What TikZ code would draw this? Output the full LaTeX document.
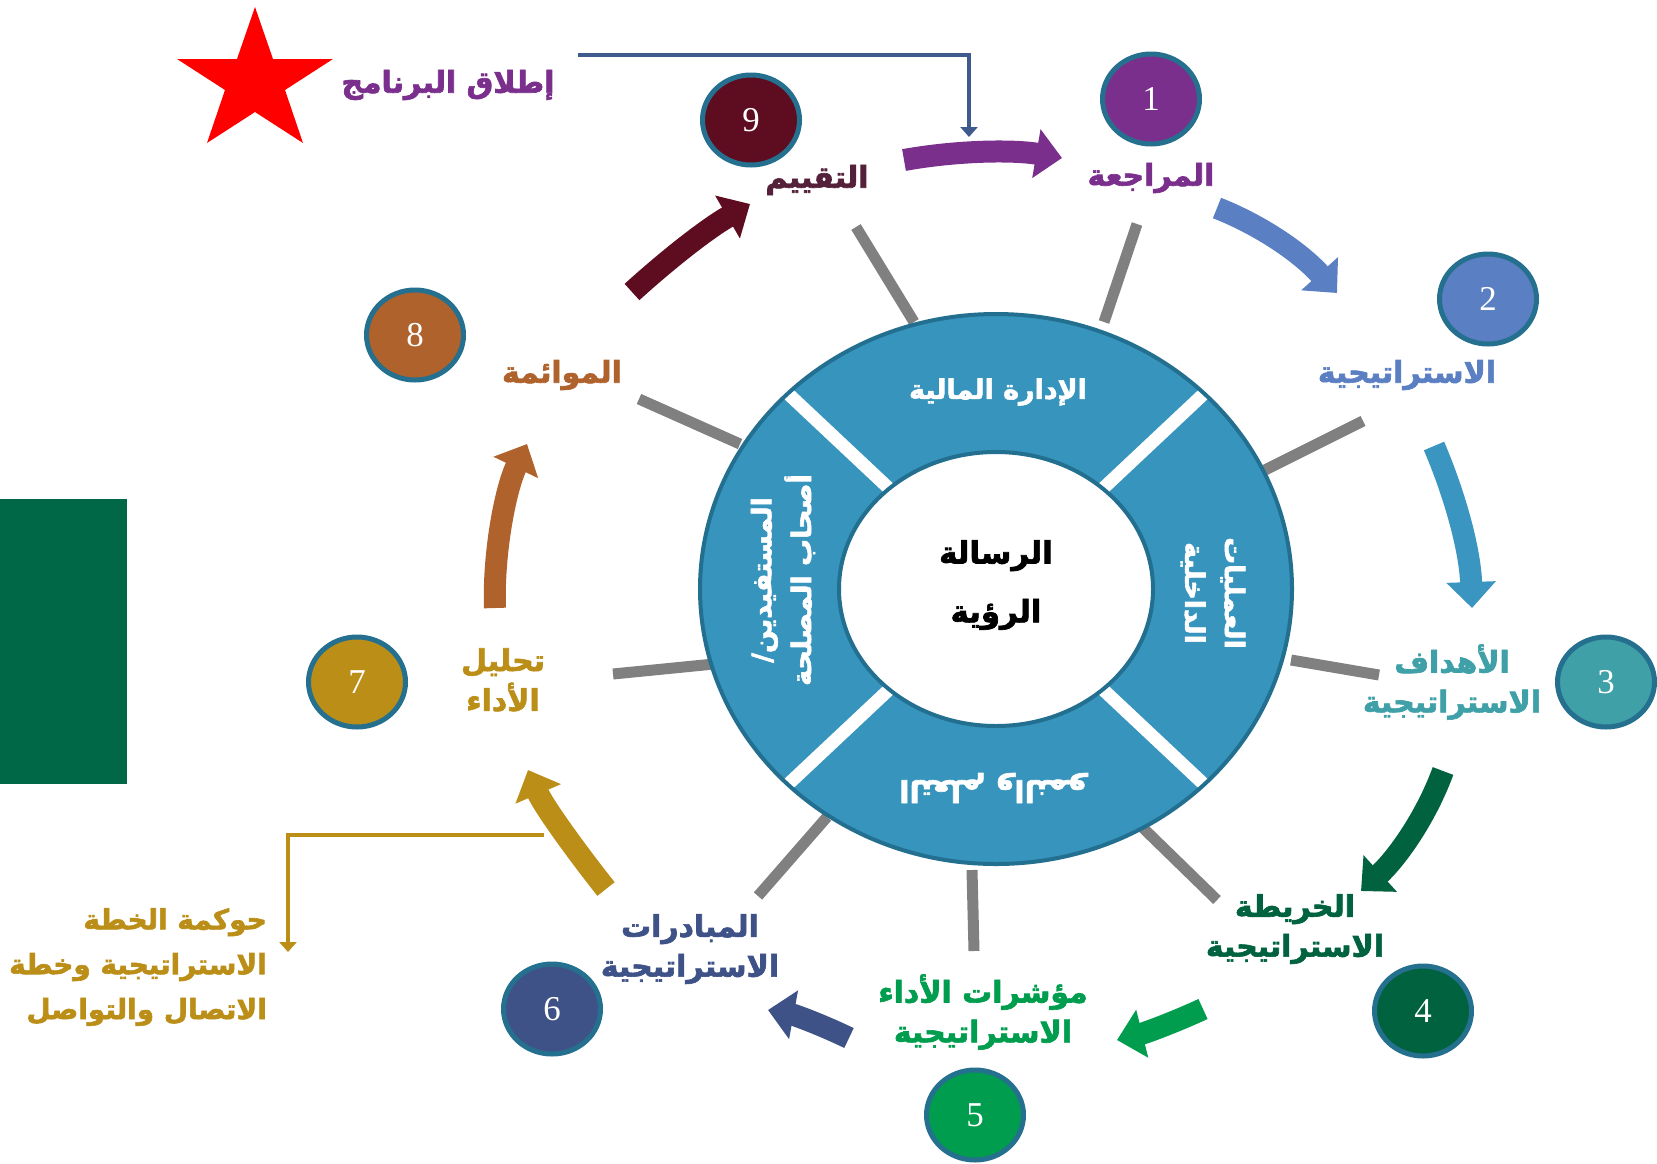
\documentclass[tikz,border=0pt]{standalone}
\usepackage{fontspec}
\usetikzlibrary{arrows.meta,shapes.geometric}
\TeXXeTstate=1
\setmainfont{Liberation Serif}
\newfontfamily\arfont[Script=Arabic, BoldFeatures={FakeBold=2.2}]{DejaVu Sans}
\newcommand{\AR}[1]{\beginR #1\endR}

\definecolor{cPurple}{HTML}{7B2F8C}
\definecolor{cBlue}{HTML}{5A7FC3}
\definecolor{cTeal}{HTML}{3FA0A8}
\definecolor{cDkGreen}{HTML}{00623F}
\definecolor{cGreen}{HTML}{009D4E}
\definecolor{cNavy}{HTML}{3F5288}
\definecolor{cGold}{HTML}{BB8E18}
\definecolor{cBrown}{HTML}{AF622B}
\definecolor{cMaroon}{HTML}{5E0C1F}
\definecolor{cMaroonTxt}{HTML}{55203A}
\definecolor{cRing}{HTML}{3694BD}
\definecolor{cRingEdge}{HTML}{236F8F}
\definecolor{cBadgeEdge}{HTML}{24708E}
\definecolor{cSpoke}{HTML}{808080}
\definecolor{cLink}{HTML}{3F5A8C}
\definecolor{cSide}{HTML}{006747}
\definecolor{cSky}{HTML}{3A96C0}

\tikzset{
  badge/.style={ellipse, draw=cBadgeEdge, line width=5bp, minimum width=97bp,
    minimum height=90bp, inner sep=0, text=white, font=\fontsize{35}{35}\selectfont},
  lbl/.style={font=\arfont\bfseries\fontsize{30}{40}\selectfont, align=center, inner sep=0},
  ringtxt/.style={lbl, text=white, font=\arfont\bfseries\fontsize{27}{40}\selectfont},
  flow/.style={line width=22bp, -{Triangle[width=48bp,length=26bp]}},
  spoke/.style={draw=cSpoke, line width=11bp},
  link/.style={line width=4bp, -{Triangle[width=17bp,length=10bp]}},
}

\begin{document}
\begin{tikzpicture}[x=1bp,y=-1bp]
\path[use as bounding box] (0,0) rectangle (1657,1163);

% side panel and launch star
\fill[cSide] (0,499) rectangle (127,784);
\fill[red] (255,7) -- (273,59) -- (333,59) -- (285,90) -- (303,143) -- (255,112)
  -- (207,143) -- (225,90) -- (177,59) -- (237,59) -- cycle;

% spokes around the ring
\coordinate (s1a) at (914,322);  \coordinate (s1b) at (856,227);
\coordinate (s2a) at (1104,322); \coordinate (s2b) at (1137,224);
\coordinate (s3a) at (1265,470); \coordinate (s3b) at (1363,421);
\coordinate (s4a) at (1291,660); \coordinate (s4b) at (1379,675);
\coordinate (s5a) at (1141,826); \coordinate (s5b) at (1217,900);
\coordinate (s6a) at (972,870);  \coordinate (s6b) at (974,951);
\coordinate (s7a) at (827,817);  \coordinate (s7b) at (758,896);
\coordinate (s8a) at (714,664);  \coordinate (s8b) at (613,674);
\coordinate (s9a) at (740,444);  \coordinate (s9b) at (639,399);
\foreach \k in {1,...,9} \draw[spoke] (s\k a) -- (s\k b);

% the ring of four perspectives
\coordinate (ctr) at (996,589);
\fill[cRing] (ctr) ellipse [x radius=296, y radius=275];
\begin{scope}
  \clip (ctr) ellipse [x radius=296, y radius=275];
  \foreach \t in {45,135,225,315}
    \draw[white, line width=13bp] (ctr) -- ++({330*cos(\t)},{310*sin(\t)});
\end{scope}
\draw[cRingEdge, line width=4bp, fill=white] (ctr) ellipse [x radius=157, y radius=137];
\draw[cRingEdge, line width=4bp] (ctr) ellipse [x radius=296, y radius=275];

\node[ringtxt] (fin) at (998,392) {\AR{الإدارة المالية}};
\node[ringtxt, rotate=90] (cust) at (783,580) {\AR{المستفيدين/}\\\AR{أصحاب المصلحة}};
\node[ringtxt, rotate=-90] (proc) at (1213,593) {\AR{العمليات}\\\AR{الداخلية}};
\node[ringtxt, rotate=180, font=\arfont\bfseries\fontsize{30}{40}\selectfont] (learn) at (993,788) {\AR{التعلم والنمو}};
\node[lbl, text=black, font=\arfont\bfseries\fontsize{31}{59}\selectfont] (core) at (996,585)
  {\AR{الرسالة}\\\AR{الرؤية}};

% numbered steps
\node[badge, fill=cPurple] (n1) at (1151,99) {1};
\node[badge, fill=cBlue] (n2) at (1488,299) {2};
\node[badge, fill=cTeal] (n3) at (1606,682) {3};
\node[badge, fill=cDkGreen] (n4) at (1423,1011) {4};
\node[badge, fill=cGreen] (n5) at (975,1115) {5};
\node[badge, fill=cNavy] (n6) at (552,1009) {6};
\node[badge, fill=cGold] (n7) at (357,682) {7};
\node[badge, fill=cBrown] (n8) at (415,335) {8};
\node[badge, fill=cMaroon] (n9) at (751,120) {9};

% step labels
\node[lbl, text=cPurple] (t1) at (1151,178) {\AR{المراجعة}};
\node[lbl, text=cBlue] (t2) at (1407,375) {\AR{الاستراتيجية}};
\node[lbl, text=cTeal] (t3) at (1452,682) {\AR{الأهداف}\\\AR{الاستراتيجية}};
\node[lbl, text=cDkGreen] (t4) at (1295,929) {\AR{الخريطة}\\\AR{الاستراتيجية}};
\node[lbl, text=cGreen] (t5) at (983,1012) {\AR{مؤشرات الأداء}\\\AR{الاستراتيجية}};
\node[lbl, text=cNavy] (t6) at (690,949) {\AR{المبادرات}\\\AR{الاستراتيجية}};
\node[lbl, text=cGold] (t7) at (503,680) {\AR{تحليل}\\\AR{الأداء}};
\node[lbl, text=cBrown] (t8) at (562,375) {\AR{الموائمة}};
\node[lbl, text=cMaroonTxt] (t9) at (817,180) {\AR{التقييم}};
\node[lbl, text=cPurple] (launch) at (448,85) {\AR{إطلاق البرنامج}};
\node[lbl, text=cGold, align=right, anchor=east, font=\arfont\bfseries\fontsize{28}{45}\selectfont]
  (gov) at (267,967) {\AR{حوكمة الخطة}\\\AR{الاستراتيجية وخطة}\\\AR{الاتصال والتواصل}};

% cycle arrows
\coordinate (a91s) at (904,160);  \coordinate (a91e) at (1062,158);
\coordinate (a12s) at (1217,208); \coordinate (a12e) at (1337,293);
\coordinate (a23s) at (1434,446); \coordinate (a23e) at (1472,608);
\coordinate (a34s) at (1443,771); \coordinate (a34e) at (1361,891);
\coordinate (a45s) at (1203,1009); \coordinate (a45e) at (1117,1040);
\coordinate (a56s) at (849,1038); \coordinate (a56e) at (768,1010);
\coordinate (a67s) at (606,889); \coordinate (a67e) at (528,770);
\coordinate (a78s) at (495,608); \coordinate (a78e) at (527,444);
\coordinate (a89s) at (632,292); \coordinate (a89e) at (750,204);

\draw[flow, cPurple] (a91s) .. controls (960,150) and (1015,150) .. (a91e);
\draw[flow, cBlue] (a12s) .. controls (1260,225) and (1300,252) .. (a12e);
\draw[flow, cSky] (a23s) .. controls (1455,495) and (1470,550) .. (a23e);
\draw[flow, cDkGreen] (a34s) .. controls (1425,820) and (1395,860) .. (a34e);
\draw[flow, cGreen] (a45s) .. controls (1175,1022) and (1145,1033) .. (a45e);
\draw[flow, cNavy] (a56s) .. controls (822,1025) and (795,1015) .. (a56e);
\draw[flow, cGold] (a67s) .. controls (575,850) and (543,805) .. (a67e);
\draw[flow, cBrown] (a78s) .. controls (493,555) and (505,490) .. (a78e);
\draw[flow, cMaroon] (a89s) .. controls (665,262) and (705,230) .. (a89e);

% launch and governance links
\coordinate (lk1) at (578,55); \coordinate (lk2) at (969,55); \coordinate (lk3) at (969,137);
\draw[link, cLink] (lk1) -- (lk2) -- (lk3);
\coordinate (gk1) at (544,835); \coordinate (gk2) at (288,835); \coordinate (gk3) at (288,952);
\draw[link, cGold] (gk1) -- (gk2) -- (gk3);
\end{tikzpicture}
\end{document}
